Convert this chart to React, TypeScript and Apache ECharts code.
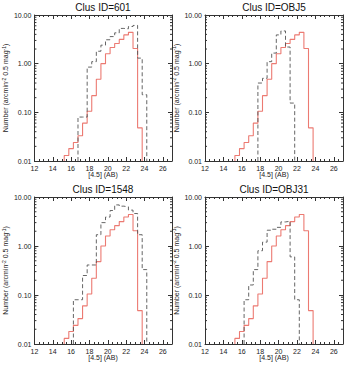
import React, { useEffect, useRef } from "react";
import * as echarts from "echarts";

// ---- data ----
const titles = ["Clus ID=601", "Clus ID=OBJ5", "Clus ID=1548", "Clus ID=OBJ31"];
const xAxisTitle = "[4.5] (AB)";
const xTicks = [12, 14, 16, 18, 20, 22, 24, 26];
const yTickLabels = ["0.01", "0.10", "1.00", "10.00"];
const BIN = 0.5;
const FLOOR = 0.01;

// field (red, solid) distribution, bins start at 15.25
const fieldStart = 15.25;
const fieldValues = [0.013, 0.018, 0.024, 0.033, 0.06, 0.105, 0.22, 0.48, 1.0, 1.6, 2.15, 2.6, 3.15, 3.9, 4.4, 2.05, 0.048];

// cluster (black, dashed) distributions
const clus601Start = 16.75;
const clus601Values = [0.08, 0.08, 0.85, 1.1, 1.8, 2.4, 3.1, 3.6, 4.3, 5.3, 5.2, 5.8, 6.1, 1.3, 0.23];
const clusOBJ5Start = 17.75;
const clusOBJ5Values = [0.4, 0.5, 1.1, 1.65, 3.9, 4.7, 2.2, 0.155];
const clus1548Start = 16.25;
const clus1548Values = [0.08, 0.08, 0.25, 0.41, 0.41, 1.7, 3.0, 3.9, 5.3, 6.9, 6.5, 6.3, 5.4, 4.6, 1.7, 0.33];
const clusOBJ31Start = 16.25;
const clusOBJ31Values = [0.08, 0.16, 0.33, 0.8, 1.2, 2.1, 2.2, 2.4, 3.1, 3.2, 0.6, 0.08];

const clusStarts = [clus601Start, clusOBJ5Start, clus1548Start, clusOBJ31Start];
const clusValues = [clus601Values, clusOBJ5Values, clus1548Values, clusOBJ31Values];

const logMinorValues = [2, 3, 4, 5, 6, 7, 8, 9].flatMap((m) => [m * 0.01, m * 0.1, m * 1]);

function stepPoints(start: number, vals: number[]) {
  const pts: number[][] = [[start, FLOOR]];
  vals.forEach((v, i) => {
    const a = start + i * BIN;
    pts.push([a, v], [a + BIN, v]);
  });
  pts.push([start + vals.length * BIN, FLOOR]);
  return pts;
}

const FONT = "Liberation Sans";
const RED = "#ec7a72";
const DARK = "#555555";
const AXIS = "#333333";
const TEXT = "#222222";

const grids = [
  { left: 34, top: 15, width: 138, height: 146 },
  { left: 205, top: 15, width: 138, height: 146 },
  { left: 34, top: 197, width: 138, height: 147 },
  { left: 205, top: 197, width: 138, height: 147 },
];

export default function App() {
  const ref = useRef<HTMLDivElement>(null);
  useEffect(() => {
    const chart = echarts.init(ref.current!, null, { renderer: "svg" });
    const xAxis: any[] = [];
    const yAxis: any[] = [];
    const series: any[] = [];
    const title: any[] = [];
    grids.forEach((g, i) => {
      title.push({
        text: titles[i],
        left: g.left + g.width / 2,
        top: g.top - 13,
        padding: 0,
        textAlign: "center",
        textStyle: { fontFamily: FONT, fontSize: 10, fontWeight: "normal", color: "#111111" },
      });
      title.push({
        text: xAxisTitle,
        left: g.left + g.width / 2,
        top: g.top + g.height + 10,
        padding: 0,
        textAlign: "center",
        textStyle: { fontFamily: FONT, fontSize: 7, fontWeight: "normal", color: TEXT },
      });
      const common = {
        type: "value",
        min: 12,
        max: 27,
        interval: 2,
        gridIndex: i,
        axisLine: { show: true, onZero: false, lineStyle: { color: AXIS, width: 1 } },
        axisTick: { show: true, inside: true, length: 4, lineStyle: { color: AXIS } },
        minorTick: { show: true, splitNumber: 4, length: 2, lineStyle: { color: AXIS } },
        splitLine: { show: false },
      };
      xAxis.push({
        ...common,
        position: "bottom",
        axisLabel: {
          fontFamily: FONT,
          fontSize: 7,
          color: TEXT,
          margin: 4,
          formatter: (v: number) => (xTicks.includes(v) ? String(v) : ""),
        },
      });
      xAxis.push({ ...common, position: "top", axisLabel: { show: false } });
      const ycommon = {
        type: "log",
        logBase: 10,
        min: 0.01,
        max: 10,
        gridIndex: i,
        axisLine: { show: true, onZero: false, lineStyle: { color: AXIS, width: 1 } },
        axisTick: { show: true, inside: true, length: 4, lineStyle: { color: AXIS } },
        splitLine: { show: false },
      };
      yAxis.push({
        ...ycommon,
        position: "left",
        name: "Number (arcmin{sup|-2} 0.5 mag{sup|-1})",
        nameLocation: "middle",
        nameGap: 22,
        nameRotate: 90,
        nameTextStyle: {
          fontFamily: FONT,
          fontSize: 7,
          color: TEXT,
          lineHeight: 9,
          rich: { sup: { fontFamily: FONT, fontSize: 5, color: TEXT, verticalAlign: "top", lineHeight: 9 } },
        },
        axisLabel: {
          fontFamily: FONT,
          fontSize: 7,
          color: TEXT,
          margin: 3,
          formatter: (v: number) => {
            const s = v.toFixed(2);
            return yTickLabels.includes(s) ? s : "";
          },
        },
      });
      yAxis.push({ ...ycommon, position: "right", axisLabel: { show: false } });

      series.push({
        type: "line",
        xAxisIndex: 2 * i,
        yAxisIndex: 2 * i,
        data: stepPoints(fieldStart, fieldValues),
        showSymbol: false,
        symbol: "none",
        lineStyle: { color: RED, width: 1.1 },
        z: 3,
      });
      series.push({
        type: "line",
        xAxisIndex: 2 * i,
        yAxisIndex: 2 * i,
        data: stepPoints(clusStarts[i], clusValues[i]),
        showSymbol: false,
        symbol: "none",
        lineStyle: { color: DARK, width: 0.9, type: [4, 2.5] },
        z: 4,
      });
      series.push({
        type: "custom",
        xAxisIndex: 2 * i,
        yAxisIndex: 2 * i,
        silent: true,
        data: logMinorValues.map((v) => [12, v]),
        renderItem: (params: any, api: any) => {
          const p = api.coord([12, api.value(1)]);
          const cs = params.coordSys;
          const st = { stroke: AXIS, lineWidth: 1 };
          return {
            type: "group",
            children: [
              { type: "line", shape: { x1: cs.x, y1: p[1], x2: cs.x + 2, y2: p[1] }, style: st },
              { type: "line", shape: { x1: cs.x + cs.width - 2, y1: p[1], x2: cs.x + cs.width, y2: p[1] }, style: st },
            ],
          };
        },
      });
    });

    chart.setOption({
      animation: false,
      backgroundColor: "#ffffff",
      title,
      grid: grids.map((g) => ({ ...g, containLabel: false })),
      xAxis,
      yAxis,
      series,
    });
    return () => chart.dispose();
  }, []);
  return (
    <div
      ref={ref}
      style={{ position: "fixed", left: 0, top: 0, width: 351, height: 367, background: "#fff" }}
    />
  );
}
